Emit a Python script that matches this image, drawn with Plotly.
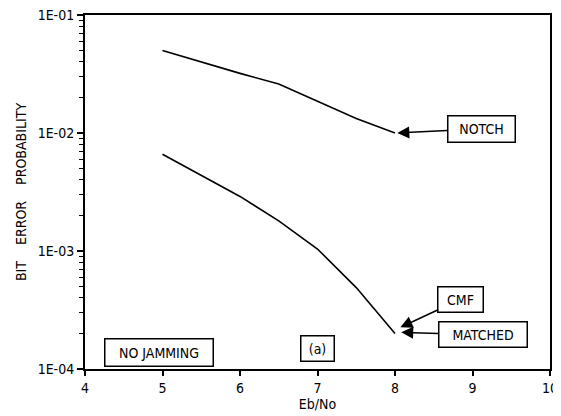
import numpy as np
import plotly.graph_objects as go

# Data
ebno = [5, 5.5, 6, 6.5, 7, 7.5, 8]
notch = [0.050, 0.040, 0.032, 0.026, 0.0185, 0.0133, 0.010]
cmf_matched = [0.0066, 0.0044, 0.0029, 0.0018, 0.00104, 0.00049, 0.00020]

x_ticks = [4, 5, 6, 7, 8, 9, 10]
y_ticks = [1e-4, 1e-3, 1e-2, 1e-1]
y_ticktext = ["1E-04", "1E-03", "1E-02", "1E-01"]
y_minor = [m * 10.0 ** d for d in (-4, -3, -2) for m in range(2, 10)]

FONT = "DejaVu Sans Condensed, DejaVu Sans, sans-serif"

fig = go.Figure()
fig.add_trace(go.Scatter(x=ebno, y=notch, mode="lines",
                         line=dict(color="black", width=1.6), showlegend=False))
fig.add_trace(go.Scatter(x=ebno, y=cmf_matched, mode="lines",
                         line=dict(color="black", width=1.6), showlegend=False))

def box(text, x, y, w, h, tipx=None, tipy=None):
    d = dict(text=text, xref="x", yref="y", font=dict(family=FONT, size=14, color="black"),
             bordercolor="black", borderwidth=1.5, bgcolor="white",
             width=w, height=h, borderpad=1, align="center", valign="middle")
    if tipx is None:
        d.update(x=x, y=y, showarrow=False)
    else:
        d.update(x=tipx, y=tipy, ax=x, ay=y, axref="x", ayref="y", showarrow=True,
                 arrowhead=2, arrowsize=1.6, arrowwidth=1.5, arrowcolor="black",
                 standoff=0, startstandoff=0)
    fig.add_annotation(**d)

box("NOTCH", 9.11, -1.966, 64, 23, tipx=8.03, tipy=-2.0)
box("CMF", 8.85, -3.408, 42, 22, tipx=8.07, tipy=-3.647)
box("MATCHED", 9.13, -3.710, 85, 22, tipx=8.08, tipy=-3.689)
box("(a)", 7.0, -3.828, 30, 22)
box("NO JAMMING", 4.96, -3.861, 105, 24)

fig.update_xaxes(range=[4, 10], tickvals=x_ticks, ticks="outside", ticklen=5,
                 tickwidth=1.5, tickcolor="black", showline=True, linecolor="black",
                 linewidth=2, mirror=True, showgrid=False, zeroline=False, automargin=False,
                 ticklabeloverflow="allow",
                 title=dict(text="Eb/No", font=dict(family=FONT, size=14, color="black"), standoff=2),
                 tickfont=dict(family=FONT, size=14, color="black"))
fig.update_yaxes(type="log", range=[-4, -1], tickvals=y_ticks, ticktext=y_ticktext,
                 ticks="outside", ticklen=6, tickwidth=1.5, tickcolor="black",
                 minor=dict(tickmode="array", tickvals=y_minor, ticks="outside",
                            ticklen=4, tickwidth=1.2, tickcolor="black"),
                 showline=True, linecolor="black", linewidth=2, mirror=True,
                 showgrid=False, zeroline=False, automargin=False,
                 ticklabeloverflow="allow",
                 title=dict(text="BIT    ERROR    PROBABILITY",
                            font=dict(family=FONT, size=14, color="black"), standoff=8),
                 tickfont=dict(family=FONT, size=14, color="black"))

# the page body adds an 8px offset; size the figure so the plot area lands where the reference has it
fig.update_layout(width=553, height=408, margin=dict(l=77, r=11, t=7, b=47),
                  plot_bgcolor="white", paper_bgcolor="white")
fig.write_html("out.html")
